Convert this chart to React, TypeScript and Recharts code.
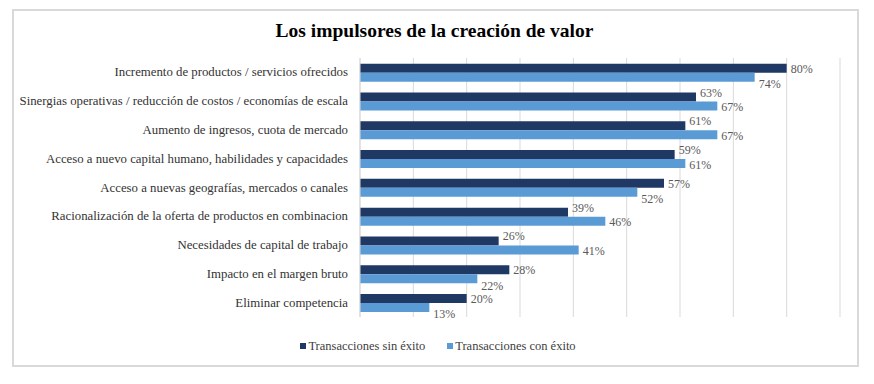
import React from 'react';
import { BarChart, Bar, XAxis, YAxis, CartesianGrid, LabelList, Legend } from 'recharts';

const categories = [
  'Incremento de productos / servicios ofrecidos',
  'Sinergias operativas / reducción de costos / economías de escala',
  'Aumento de ingresos, cuota de mercado',
  'Acceso a nuevo capital humano, habilidades y capacidades',
  'Acceso a nuevas geografías, mercados o canales',
  'Racionalización de la oferta de productos en combinacion',
  'Necesidades de capital de trabajo',
  'Impacto en el margen bruto',
  'Eliminar competencia',
];
const sinExito = [80, 63, 61, 59, 57, 39, 26, 28, 20];
const conExito = [74, 67, 67, 61, 52, 46, 41, 22, 13];
const xTicks = [0, 10, 20, 30, 40, 50, 60, 70, 80, 90];
const seriesNames = ['Transacciones sin éxito', 'Transacciones con éxito'];
const colors = ['#203864', '#5b9bd5'];
const title = 'Los impulsores de la creación de valor';

const data = categories.map((name, i) => ({ name, sin: sinExito[i], con: conExito[i] }));

const FONT = '"Liberation Serif", "Times New Roman", serif';

const makeLabel = (series: 'sin' | 'con') => (props: any) => {
  const { x, y, width, height, index, value } = props;
  const darkWins = sinExito[index] >= conExito[index];
  let off = 0;
  if (series === 'sin') off = darkWins ? 0.5 : -4.5;
  else off = darkWins ? 7 : 1;
  return (
    <text
      x={Number(x) + Number(width) + 4}
      y={Number(y) + Number(height) / 2 + off}
      dominantBaseline="central"
      fontFamily={FONT}
      fontSize={12}
      fill="#595959"
    >
      {value}%
    </text>
  );
};

const CatTick = (props: any) => {
  const { x, y, payload } = props;
  return (
    <text
      x={x - 4}
      y={y}
      textAnchor="end"
      dominantBaseline="central"
      fontFamily={FONT}
      fontSize={12.8}
      fill="#333333"
    >
      {payload.value}
    </text>
  );
};

const LegendContent = () => (
  <div
    style={{
      display: 'flex',
      justifyContent: 'center',
      fontFamily: FONT,
      fontSize: 12.5,
      lineHeight: '16px',
      color: '#404040',
      gap: 22,
      paddingLeft: 2,
    }}
  >
    {seriesNames.map((n, i) => (
      <div key={n} style={{ display: 'flex', alignItems: 'center' }}>
        <span style={{ display: 'inline-block', width: 6, height: 6, background: colors[i], marginRight: 2 }} />
        <span>{n}</span>
      </div>
    ))}
  </div>
);

export default function App() {
  return (
    <div style={{ position: 'absolute', left: 0, top: 0, width: 874, height: 384, background: '#fff' }}>
      <div
        style={{
          position: 'absolute',
          left: 12,
          top: 9,
          width: 843,
          height: 354,
          border: '2px solid #d9d9d9',
        }}
      />
      <div
        style={{
          position: 'absolute',
          left: 12,
          width: 845,
          top: 19,
          textAlign: 'center',
          fontFamily: FONT,
          fontWeight: 'bold',
          fontSize: 19.5,
          color: '#000',
          lineHeight: '24px',
        }}
      >
        {title}
      </div>
      <div style={{ position: 'absolute', left: 0, top: 0 }}>
        <BarChart
          width={874}
          height={384}
          data={data}
          layout="vertical"
          margin={{ top: 58, right: 34, bottom: 51, left: 0 }}
          barCategoryGap="20%"
          barGap={0}
        >
          <CartesianGrid horizontal={false} stroke="#d9d9d9" strokeWidth={1} />
          <XAxis type="number" domain={[0, 90]} ticks={xTicks} hide />
          <YAxis
            type="category"
            dataKey="name"
            width={360}
            axisLine={{ stroke: '#d9d9d9' }}
            tickLine={false}
            tick={<CatTick />}
            interval={0}
          />
          <Legend
            content={<LegendContent />}
            wrapperStyle={{ position: 'absolute', top: 338, left: 0, width: 874 }}
          />
          <Bar dataKey="sin" name={seriesNames[0]} fill={colors[0]} isAnimationActive={false}>
            <LabelList dataKey="sin" content={makeLabel('sin')} />
          </Bar>
          <Bar dataKey="con" name={seriesNames[1]} fill={colors[1]} isAnimationActive={false}>
            <LabelList dataKey="con" content={makeLabel('con')} />
          </Bar>
        </BarChart>
      </div>
    </div>
  );
}
